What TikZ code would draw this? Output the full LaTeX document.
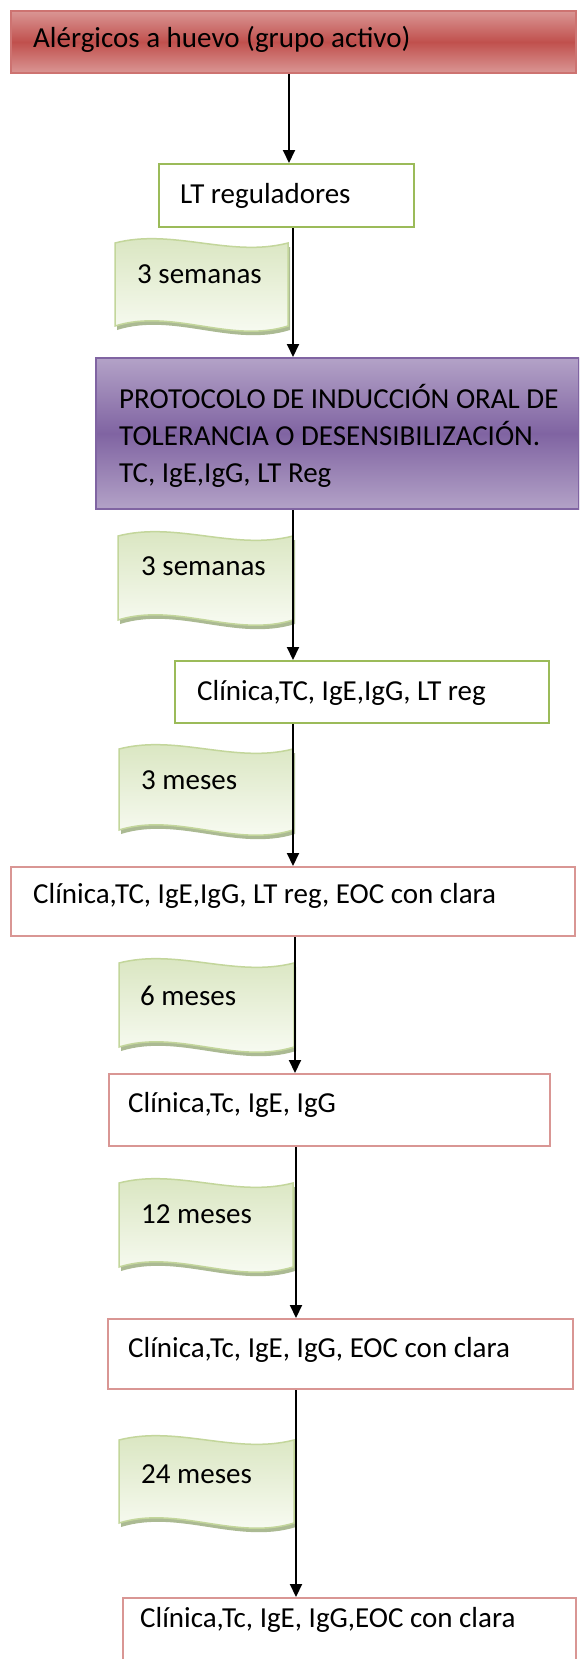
\documentclass[tikz,border=0pt]{standalone}
\usepackage{fontspec}
\setmainfont{Carlito}
\usetikzlibrary{arrows.meta,calc}
\definecolor{redD}{HTML}{C0504D}
\definecolor{redL}{HTML}{DA9694}
\definecolor{purD}{HTML}{8064A2}
\definecolor{purL}{HTML}{B3A2C7}
\definecolor{grn}{HTML}{9BBB59}
\definecolor{pnk}{HTML}{D99694}
\definecolor{wvT}{HTML}{D7E4BD}
\definecolor{wvB}{HTML}{FBFDF7}
\definecolor{wvE}{HTML}{C3D69B}
\definecolor{wvS}{HTML}{ABBA93}
\tikzset{
 boxbase/.style={line width=2pt, anchor=north west, inner sep=0pt},
 greenbox/.style={boxbase, draw=grn, fill=white},
 pinkbox/.style={boxbase, draw=pnk, fill=white},
 lbl/.style={anchor=base west, inner sep=0pt, font=\fontsize{29}{37}\selectfont},
 arr/.style={line width=2pt, -{Triangle[length=13pt,width=12pt]}},
}
\newcommand\wavebox[4]{%
 \pgfmathsetmacro\wA{#1+(#2-#1)/3}%
 \pgfmathsetmacro\wB{#1+2*(#2-#1)/3}%
 \fill[wvS, shift={(2,4)}] (#1,#3) .. controls (\wA,#3-15) and (\wB,#3+15) .. (#2,#3) -- (#2,#4) .. controls (\wB,#4+18) and (\wA,#4-18) .. (#1,#4) -- cycle;
 \draw[wvE, line width=1.5pt, top color=wvT, bottom color=wvB] (#1,#3) .. controls (\wA,#3-15) and (\wB,#3+15) .. (#2,#3) -- (#2,#4) .. controls (\wB,#4+18) and (\wA,#4-18) .. (#1,#4) -- cycle;
}
\begin{document}
\begin{tikzpicture}[x=1pt,y=-1pt]
\useasboundingbox (0,0) rectangle (579,1659);
\clip (0,0) rectangle (579,1659);
\fill[white] (0,0) rectangle (579,1659);

% boxes
\node[boxbase, draw=redD!80, top color=redL, bottom color=redL, middle color=redD, minimum width=565pt, minimum height=62pt] (R) at (10,10) {};
\node[lbl] (Rt) at (33,48) {Alérgicos a huevo (grupo activo)};

\node[greenbox, minimum width=255pt, minimum height=63pt] (G1) at (158,163) {};
\node[lbl] (G1t) at (180,203) {LT reguladores};

\node[boxbase, draw=purD, top color=purL, bottom color=purL, middle color=purD, minimum width=483pt, minimum height=151pt] (P) at (95,357) {};
\node[lbl] (Pt1) at (119,408) {PROTOCOLO DE INDUCCIÓN ORAL DE};
\node[lbl] (Pt2) at (119,445) {TOLERANCIA O DESENSIBILIZACIÓN.};
\node[lbl] (Pt3) at (119,482) {TC, IgE,IgG, LT Reg};

\node[greenbox, minimum width=374pt, minimum height=62pt] (G2) at (174,660) {};
\node[lbl] (G2t) at (197,700) {Clínica,TC, IgE,IgG, LT reg};

\node[pinkbox, minimum width=564pt, minimum height=69pt] (K3) at (10,866) {};
\node[lbl] (K3t) at (33,903) {Clínica,TC, IgE,IgG, LT reg, EOC con clara};

\node[pinkbox, minimum width=441pt, minimum height=72pt] (K4) at (108,1073) {};
\node[lbl] (K4t) at (128,1112) {Clínica,Tc, IgE, IgG};

\node[pinkbox, minimum width=465pt, minimum height=70pt] (K5) at (107,1318) {};
\node[lbl] (K5t) at (128,1357) {Clínica,Tc, IgE, IgG, EOC con clara};

\node[pinkbox, minimum width=453pt, minimum height=110pt] (K6) at (122,1597) {};
\node[lbl] (K6t) at (140,1627) {Clínica,Tc, IgE, IgG,EOC con clara};

% wave labels
\wavebox{115}{288}{243}{326}
\node[lbl] (W1) at (137,283) {3 semanas};
\wavebox{118}{293}{536}{620}
\node[lbl] (W2) at (141,575) {3 semanas};
\wavebox{119}{293}{749}{830}
\node[lbl] (W3) at (141,789) {3 meses};
\wavebox{119}{294}{963}{1047}
\node[lbl] (W4) at (140,1005) {6 meses};
\wavebox{119}{293}{1183}{1267}
\node[lbl] (W5) at (141,1223) {12 meses};
\wavebox{119}{294}{1440}{1523}
\node[lbl] (W6) at (141,1483) {24 meses};

% connectors
\draw[arr] (289,0 |- R.south) -- (289,0 |- G1.north);
\draw[arr] (293,0 |- G1.south) -- (293,0 |- P.north);
\draw[arr] (293,0 |- P.south) -- (293,0 |- G2.north);
\draw[arr] (293,0 |- G2.south) -- (293,0 |- K3.north);
\draw[arr] (295,0 |- K3.south) -- (295,0 |- K4.north);
\draw[arr] (296,0 |- K4.south) -- (296,0 |- K5.north);
\draw[arr] (296,0 |- K5.south) -- (296,0 |- K6.north);
\end{tikzpicture}
\end{document}
